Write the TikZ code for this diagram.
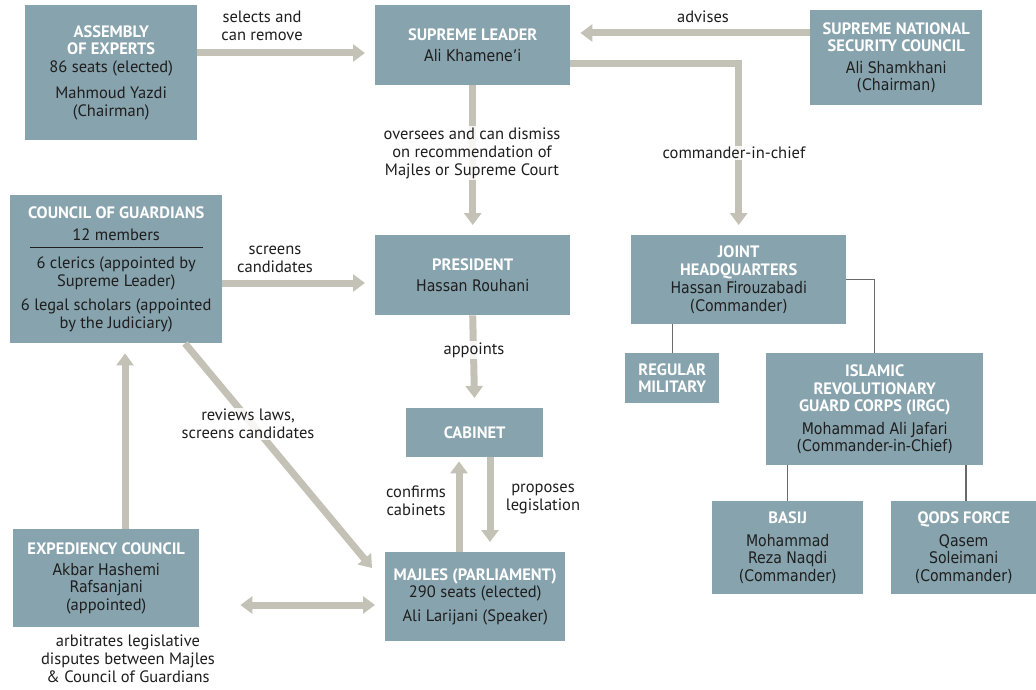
\documentclass[tikz,border=0pt]{standalone}
\usepackage{fontspec}
\setmainfont{PT Sans}
\newfontfamily\altf[FakeStretch=0.88]{DejaVu Sans}
\usetikzlibrary{arrows.meta,calc}
\definecolor{boxc}{HTML}{87A3AD}
\definecolor{arrc}{HTML}{C4C2B6}
\definecolor{txtc}{HTML}{1E1E1E}
\definecolor{linec}{HTML}{6A6A6A}
\newcommand{\ttl}[1]{{\bfseries\color{white}#1}}
\newcommand{\alt}[1]{{\altf\fontsize{16}{17.5}\selectfont #1}}
\begin{document}
\begin{tikzpicture}[x=1pt,y=-1pt,
  box/.style={fill=boxc, inner sep=0pt, anchor=north west, align=center, text=txtc, font=\fontsize{16.5}{17.5}\selectfont},
  lbl/.style={fill=white, fill opacity=0.85, text opacity=1, text=txtc, inner sep=1.5pt, align=center, font=\fontsize{16.5}{18}\selectfont},
  arr/.style={draw=arrc, line width=7pt, -{Triangle[width=17pt,length=12pt]}, shorten >=10pt},
  thinl/.style={draw=linec, line width=1.1pt}]
\useasboundingbox (0,0) rectangle (1036,690);

% boxes
\node[box, minimum width=172, minimum height=135] (aoe) at (25,5)
  {\ttl{ASSEMBLY}\\\ttl{OF EXPERTS}\\86 seats (elected)\\[9pt]Mahmoud Yazdi\\(Chairman)};
\node[box, minimum width=195, minimum height=80] (sl) at (375,5)
  {\ttl{SUPREME LEADER}\\[4pt]\alt{Ali Khamene’i}};
\node[box, minimum width=172, minimum height=95] (snsc) at (810,10)
  {\ttl{SUPREME NATIONAL}\\\ttl{SECURITY COUNCIL}\\[4pt]\alt{Ali Shamkhani}\\\alt{(Chairman)}};
\node[box, minimum width=212, minimum height=148] (cog) at (10,195)
  {\ttl{COUNCIL OF GUARDIANS}\\[5pt]12 members\\[-10pt]{\color{txtc}\rule{173pt}{0.8pt}}\\[3pt]6 clerics (appointed by\\Supreme Leader)\\[7pt]6 legal scholars (appointed\\by the Judiciary)};
\node[box, minimum width=195, minimum height=80] (pres) at (375,235)
  {\ttl{PRESIDENT}\\[3pt]\alt{Hassan Rouhani}};
\node[box, minimum width=215, minimum height=89] (jhq) at (631,235)
  {\ttl{JOINT}\\\ttl{HEADQUARTERS}\\[1pt]\alt{Hassan Firouzabadi}\\\alt{(Commander)}};
\node[box, minimum width=94, minimum height=50] (reg) at (625,353)
  {\ttl{REGULAR}\\\ttl{MILITARY}};
\node[box, minimum width=217, minimum height=112] (irgc) at (766,353)
  {\ttl{ISLAMIC}\\\ttl{REVOLUTIONARY}\\\ttl{GUARD CORPS (IRGC)}\\[5pt]\alt{Mohammad Ali Jafari}\\\alt{(Commander-in-Chief)}};
\node[box, minimum width=137, minimum height=49] (cab) at (406,408)
  {\ttl{CABINET}};
\node[box, minimum width=151, minimum height=93] (basij) at (712,501)
  {\ttl{BASIJ}\\[5pt]\alt{Mohammad}\\\alt{Reza Naqdi}\\\alt{(Commander)}};
\node[box, minimum width=145, minimum height=93] (qods) at (891,501)
  {\ttl{QODS FORCE}\\[5pt]\alt{Qasem}\\\alt{Soleimani}\\\alt{(Commander)}};
\node[box, minimum width=186, minimum height=98] (exp) at (13,529)
  {\ttl{EXPEDIENCY COUNCIL}\\[3pt]\alt{Akbar Hashemi}\\\alt{Rafsanjani}\\(appointed)};
\node[box, minimum width=180, minimum height=89] (maj) at (385,552)
  {\ttl{MAJLES (PARLIAMENT)}\\290 seats (elected)\\[6pt]Ali Larijani (Speaker)};

% thick arrows
\draw[arr] (aoe.east |- 0,53) -- (sl.west |- 0,53);
\draw[arr] (snsc.west |- 0,33) -- (sl.east |- 0,33);
\draw[arr] (sl.east |- 0,64) -| (jhq.north);
\draw[arr] (sl.south) -- (pres.north);
\draw[arr] (cog.east |- 0,283) -- (pres.west |- 0,283);
\draw[arr] (pres.south) -- (cab.north);
\draw[arr, shorten >=4pt] (maj.north -| 459,0) -- (cab.south -| 459,0);
\draw[arr] (cab.south -| 490,0) -- (maj.north -| 490,0);
\draw[arr, shorten >=0pt] ($(cog.south west)+(175,0)$) -- ($(maj.north west)+(-13,16)$);
\draw[arr] (exp.north -| 125,0) -- (cog.south -| 125,0);
\draw[arr, {Triangle[width=17pt,length=12pt]}-{Triangle[width=17pt,length=12pt]}, shorten <=41pt] (exp.east |- 0,605) -- (maj.west |- 0,605);

% thin lines
\draw[thinl] (jhq.east) -| (irgc.north);
\draw[thinl] (reg.north) -- (reg.north |- jhq.south);
\draw[thinl] (basij.north) -- (basij.north |- irgc.south);
\draw[thinl] (qods.north -| 966,0) -- (irgc.south -| 966,0);

% labels
\node[lbl] (l1) at (262,26) {selects and\\can remove};
\node[lbl] (l2) at (703,17) {advises};
\node[lbl] (l3) at (472,153) {oversees and can dismiss\\on recommendation of\\Majles or Supreme Court};
\node[lbl] (l4) at (734,153) {commander-in-chief};
\node[lbl] (l5) at (275,259) {screens\\candidates};
\node[lbl] (l6) at (474,350) {appoints};
\node[lbl] (l7) at (248,424) {reviews laws,\\screens candidates};
\node[lbl] (l8) at (416,501) {confirms\\cabinets};
\node[lbl] (l9) at (543,499) {proposes\\legislation};
\node[lbl] (l10) at (128,659) {arbitrates legislative\\disputes between Majles\\\& Council of Guardians};
\end{tikzpicture}
\end{document}
